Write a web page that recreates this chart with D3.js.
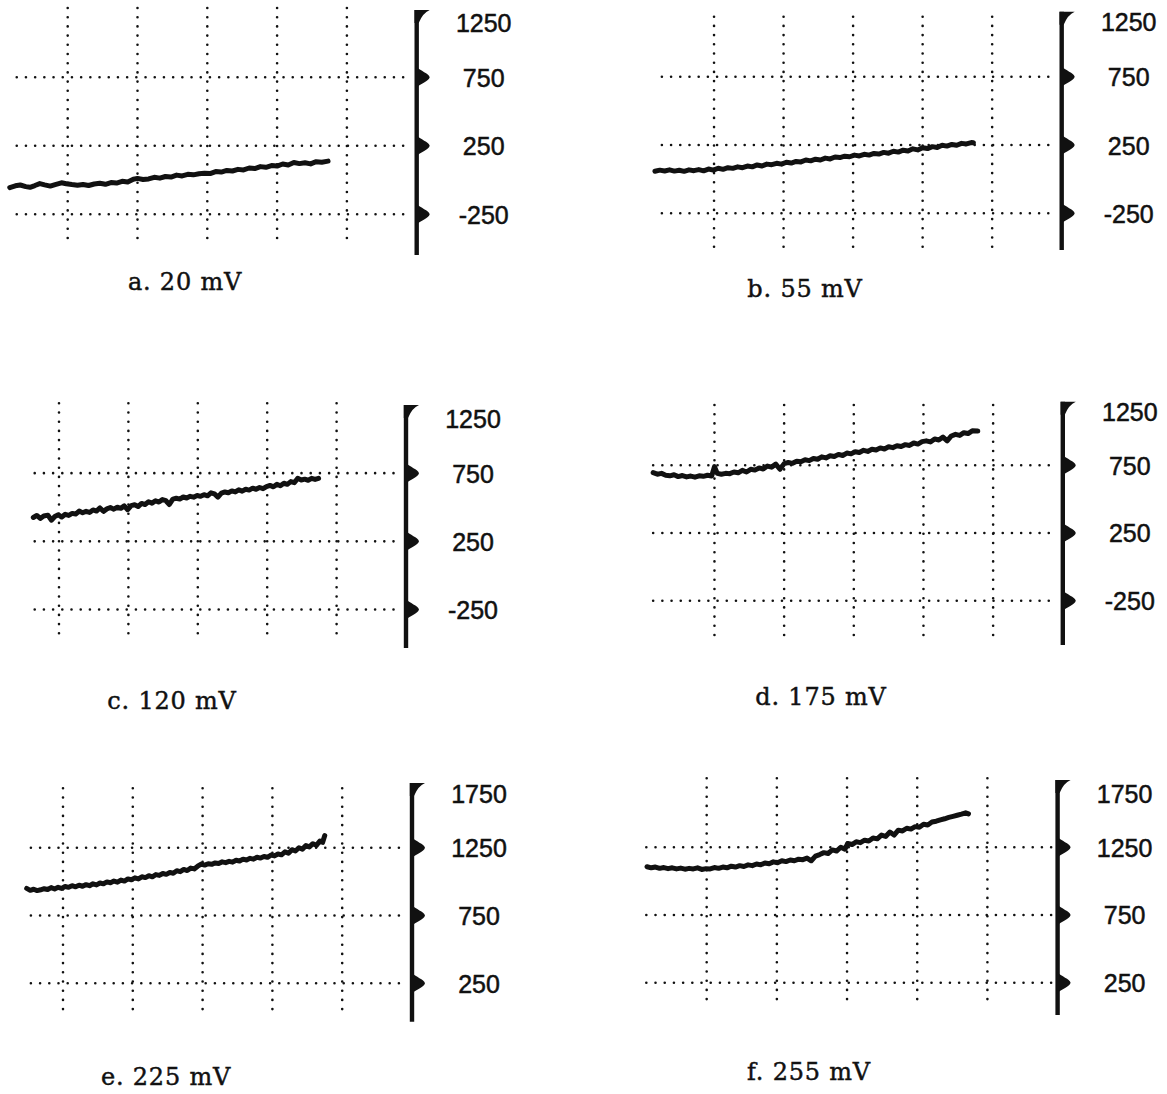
<!DOCTYPE html>
<html>
<head>
<meta charset="utf-8">
<script src="https://cdn.jsdelivr.net/npm/d3@7"></script>
<style>
  body { margin: 0; background: #fff; }
  svg { display: block; }
</style>
</head>
<body>
<div id="chart"></div>
<script>
// tick labels on the right-hand scales
var ticksLow  = [1250, 750, 250, -250];   // panels a-d
var ticksHigh = [1750, 1250, 750, 250];   // panels e, f

var panelNames = ["a. 20 mV", "b. 55 mV", "c. 120 mV", "d. 175 mV", "e. 225 mV", "f. 255 mV"];

// grid divisions (x) that carry a vertical dotted line
var divisions = [1, 2, 3, 4, 5];

// traces: [division, value]
var traceA = [[0.17,-55],[0.25,-42],[0.32,-36],[0.40,-48],[0.46,-53],[0.53,-40],[0.60,-26],[0.67,-35],[0.75,-44],[0.82,-33],
  [0.91,-20],[0.98,-27],[1.06,-33],[1.14,-38],[1.22,-32],[1.30,-40],[1.38,-29],[1.46,-24],[1.54,-31],[1.62,-18],
  [1.70,-22],[1.78,-9],[1.86,-14],[1.94,6],[2.00,12],[2.08,4],[2.16,8],[2.24,20],[2.32,14],[2.40,26],
  [2.48,22],[2.56,36],[2.64,30],[2.72,42],[2.80,38],[2.88,46],[2.96,50],[3.04,47],[3.12,62],[3.20,58],
  [3.28,70],[3.36,66],[3.44,78],[3.52,74],[3.60,88],[3.68,84],[3.76,98],[3.84,93],[3.92,106],[4.00,102],
  [4.08,117],[4.16,110],[4.24,128],[4.32,120],[4.40,126],[4.48,118],[4.56,134],[4.64,130],[4.73,138]];

var traceB = [[0.15,58],[0.22,66],[0.29,60],[0.36,68],[0.43,59],[0.50,65],[0.57,57],[0.64,68],[0.71,62],[0.78,70],
  [0.85,61],[0.92,74],[0.99,66],[1.06,80],[1.13,72],[1.20,84],[1.27,79],[1.34,90],[1.41,84],[1.48,96],
  [1.55,90],[1.62,104],[1.69,96],[1.76,110],[1.83,106],[1.90,116],[1.97,110],[2.04,124],[2.11,118],[2.18,130],
  [2.25,126],[2.32,140],[2.39,134],[2.46,146],[2.53,140],[2.60,154],[2.67,148],[2.74,162],[2.81,158],[2.88,168],
  [2.95,164],[3.02,176],[3.09,170],[3.16,182],[3.23,176],[3.30,188],[3.37,184],[3.44,196],[3.51,190],[3.58,204],
  [3.65,198],[3.72,212],[3.79,206],[3.86,222],[3.93,214],[4.00,230],[4.07,224],[4.14,238],[4.21,232],[4.28,248],
  [4.35,242],[4.42,254],[4.49,248],[4.56,262],[4.63,258],[4.70,268],[4.73,266]];

var traceC = [[0.63,425],[0.68,440],[0.73,418],[0.78,436],[0.84,442],[0.89,405],[0.94,432],[0.99,445],[1.04,428],[1.09,448],
  [1.14,440],[1.19,455],[1.24,450],[1.29,472],[1.34,460],[1.39,470],[1.44,462],[1.49,480],[1.54,472],[1.59,495],
  [1.64,470],[1.69,488],[1.74,498],[1.79,486],[1.84,500],[1.89,492],[1.94,510],[1.99,482],[2.04,512],[2.09,518],
  [2.14,505],[2.19,528],[2.24,520],[2.29,540],[2.34,530],[2.39,548],[2.44,538],[2.49,556],[2.54,548],[2.59,520],
  [2.64,560],[2.69,566],[2.74,560],[2.79,575],[2.84,568],[2.89,580],[2.94,574],[2.99,586],[3.04,580],[3.09,592],
  [3.14,584],[3.19,606],[3.24,598],[3.29,575],[3.34,604],[3.39,612],[3.44,606],[3.49,620],[3.54,612],[3.59,628],
  [3.64,618],[3.69,632],[3.74,626],[3.79,640],[3.84,632],[3.89,645],[3.94,636],[3.99,652],[4.04,660],[4.09,650],
  [4.14,668],[4.19,658],[4.24,676],[4.29,668],[4.34,688],[4.39,680],[4.44,712],[4.49,700],[4.54,706],[4.59,698],
  [4.64,712],[4.69,704],[4.74,712]];

var traceD = [[0.12,695],[0.18,684],[0.24,690],[0.30,676],[0.36,672],[0.42,680],[0.48,666],[0.54,674],[0.60,664],[0.66,670],
  [0.72,662],[0.78,672],[0.84,668],[0.90,676],[0.96,670],[1.00,740],[1.04,690],[1.10,684],[1.16,690],[1.22,688],
  [1.28,700],[1.34,694],[1.40,712],[1.46,700],[1.52,720],[1.58,714],[1.64,730],[1.70,722],[1.76,744],[1.82,736],
  [1.88,758],[1.94,720],[2.00,762],[2.06,770],[2.12,764],[2.18,780],[2.24,776],[2.30,790],[2.36,784],[2.42,800],
  [2.48,794],[2.54,812],[2.60,804],[2.66,820],[2.72,814],[2.78,830],[2.84,822],[2.90,840],[2.96,834],[3.02,850],
  [3.08,844],[3.14,860],[3.20,852],[3.26,868],[3.32,862],[3.38,878],[3.44,870],[3.50,886],[3.56,880],[3.62,894],
  [3.68,888],[3.74,902],[3.80,896],[3.86,914],[3.92,906],[3.98,924],[4.04,930],[4.10,922],[4.16,944],[4.22,936],
  [4.28,958],[4.34,930],[4.40,966],[4.46,978],[4.52,970],[4.58,990],[4.64,984],[4.70,1004],[4.78,1002]];

var traceE = [[0.48,950],[0.53,936],[0.58,944],[0.63,934],[0.68,940],[0.73,948],[0.78,942],[0.83,956],[0.88,946],[0.93,958],
  [0.98,950],[1.03,964],[1.08,958],[1.13,970],[1.18,962],[1.23,974],[1.28,966],[1.33,978],[1.38,970],[1.43,984],
  [1.48,976],[1.53,990],[1.58,984],[1.63,998],[1.68,992],[1.73,1004],[1.78,996],[1.83,1012],[1.88,1004],[1.93,1020],
  [1.98,1014],[2.03,1028],[2.08,1020],[2.13,1036],[2.18,1030],[2.23,1044],[2.28,1036],[2.33,1052],[2.38,1046],[2.43,1060],
  [2.48,1054],[2.53,1068],[2.58,1062],[2.63,1080],[2.68,1074],[2.73,1090],[2.78,1082],[2.83,1100],[2.88,1094],[2.93,1114],
  [2.98,1130],[3.03,1122],[3.08,1132],[3.13,1128],[3.18,1138],[3.23,1134],[3.28,1146],[3.33,1140],[3.38,1150],[3.43,1144],
  [3.48,1158],[3.53,1152],[3.58,1166],[3.63,1160],[3.68,1172],[3.73,1166],[3.78,1180],[3.83,1174],[3.88,1186],[3.93,1180],
  [3.98,1196],[4.03,1190],[4.08,1204],[4.13,1198],[4.18,1220],[4.23,1210],[4.28,1236],[4.33,1226],[4.38,1250],[4.43,1240],
  [4.48,1266],[4.53,1256],[4.58,1280],[4.63,1268],[4.68,1300],[4.72,1290],[4.75,1340]];

var traceF = [[0.15,1106],[0.21,1098],[0.27,1104],[0.33,1094],[0.39,1100],[0.45,1092],[0.51,1098],[0.57,1090],[0.63,1096],[0.69,1088],
  [0.75,1094],[0.81,1090],[0.87,1098],[0.93,1086],[0.99,1092],[1.05,1090],[1.11,1100],[1.17,1094],[1.23,1104],[1.29,1098],
  [1.35,1110],[1.41,1104],[1.47,1114],[1.53,1108],[1.59,1120],[1.65,1114],[1.71,1126],[1.77,1120],[1.83,1134],[1.89,1128],
  [1.95,1142],[2.01,1136],[2.07,1150],[2.13,1144],[2.19,1156],[2.25,1150],[2.31,1162],[2.37,1158],[2.43,1170],[2.49,1150],
  [2.55,1184],[2.61,1196],[2.67,1210],[2.73,1204],[2.79,1230],[2.85,1222],[2.91,1250],[2.97,1236],[3.01,1278],[3.07,1270],
  [3.13,1290],[3.19,1284],[3.25,1302],[3.31,1296],[3.37,1318],[3.43,1312],[3.49,1340],[3.55,1330],[3.61,1362],[3.67,1340],
  [3.73,1376],[3.79,1370],[3.85,1390],[3.91,1384],[3.97,1402],[4.03,1398],[4.09,1420],[4.15,1414],[4.21,1436],[4.27,1442],
  [4.33,1452],[4.39,1460],[4.45,1470],[4.51,1478],[4.57,1486],[4.63,1494],[4.69,1504],[4.73,1496]];

var traces = [traceA, traceB, traceC, traceD, traceE, traceF];
var tickSets = [ticksLow, ticksLow, ticksLow, ticksLow, ticksHigh, ticksHigh];

// where each panel sits on the page (pixels), scanned panels are not quite aligned
var layout = [
  {x0: -2.1,  x6: 416.7,  yTop: 8.8,   yBot: 214.3, gTop: 8,     gBot: 247,    hStart: 0.27, aTop: 10,    aBot: 255,    lx: 185, ly: 290},
  {x0: 644.5, x6: 1061.7, yTop: 8.4,   yBot: 213.3, gTop: 16.7,  gBot: 246.7,  hStart: 0.25, aTop: 11.7,  aBot: 250,    lx: 805, ly: 297},
  {x0: -10.4, x6: 406,    yTop: 405,   yBot: 609.5, gTop: 403.3, gBot: 640,    hStart: 0.65, aTop: 405,   aBot: 648,    lx: 172, ly: 709},
  {x0: 644.8, x6: 1062.8, yTop: 397.5, yBot: 600.7, gTop: 405,   gBot: 641.7,  hStart: 0.12, aTop: 401.7, aBot: 645,    lx: 821, ly: 705},
  {x0: -6.8,  x6: 412,    yTop: 780,   yBot: 983.3, gTop: 788.3, gBot: 1016.7, hStart: 0.54, aTop: 783,   aBot: 1021.7, lx: 166, ly: 1085},
  {x0: 636.5, x6: 1057.6, yTop: 779.5, yBot: 982.7, gTop: 778.3, gBot: 1006.7, hStart: 0.14, aTop: 780,   aBot: 1015,   lx: 809, ly: 1080}
];

var svg = d3.select("#chart")
  .append("svg")
    .attr("width", 1167)
    .attr("height", 1094);

var ink = "#111";

layout.forEach(function(L, i) {
  var ticks = tickSets[i];
  var x = d3.scaleLinear().domain([0, 6]).range([L.x0, L.x6]);
  var y = d3.scaleLinear().domain([ticks[0], ticks[3]]).range([L.yTop, L.yBot]);
  var g = svg.append("g");
  var ax = x(6);

  // vertical dotted grid
  g.selectAll(".vgrid")
    .data(divisions)
    .enter().append("line")
      .attr("x1", function(d){ return x(d); })
      .attr("x2", function(d){ return x(d); })
      .attr("y1", L.gTop)
      .attr("y2", L.gBot)
      .attr("stroke", ink)
      .attr("stroke-width", 2.6)
      .attr("stroke-linecap", "round")
      .attr("stroke-dasharray", "0 9.2");

  // horizontal dotted grid at the lower three ticks
  g.selectAll(".hgrid")
    .data(ticks.slice(1))
    .enter().append("line")
      .attr("x1", x(L.hStart))
      .attr("x2", ax - 6)
      .attr("y1", function(d){ return y(d); })
      .attr("y2", function(d){ return y(d); })
      .attr("stroke", ink)
      .attr("stroke-width", 2.6)
      .attr("stroke-linecap", "round")
      .attr("stroke-dasharray", "0 9.2");

  // the trace
  g.append("path")
    .datum(traces[i])
    .attr("fill", "none")
    .attr("stroke", ink)
    .attr("stroke-width", 5)
    .attr("stroke-linejoin", "round")
    .attr("stroke-linecap", "round")
    .attr("d", d3.line()
      .x(function(d){ return x(d[0]); })
      .y(function(d){ return y(d[1]); }));

  // thick right-hand scale
  g.append("line")
    .attr("x1", ax).attr("x2", ax)
    .attr("y1", L.aTop).attr("y2", L.aBot)
    .attr("stroke", ink)
    .attr("stroke-width", 4.4);

  // flag at the top of the scale
  g.append("path")
    .attr("d", "M" + (ax - 2.2) + "," + L.aTop + " L" + (ax + 13) + "," + L.aTop +
               " Q" + (ax + 6) + "," + (L.aTop + 3) + " " + (ax + 2) + "," + (L.aTop + 13) + " L" + (ax - 2.2) + "," + (L.aTop + 13) + " Z")
    .attr("fill", ink);

  // rounded arrow markers at the lower ticks
  g.selectAll(".marker")
    .data(ticks.slice(1))
    .enter().append("path")
      .attr("d", function(d) {
        var ty = y(d);
        return "M" + (ax - 1) + "," + (ty - 11) +
               " C" + (ax + 4) + "," + (ty - 6) + " " + (ax + 12) + "," + (ty - 4) + " " + (ax + 13) + "," + ty +
               " C" + (ax + 12) + "," + (ty + 4) + " " + (ax + 4) + "," + (ty + 6) + " " + (ax - 1) + "," + (ty + 11) + " Z";
      })
      .attr("fill", ink);

  // tick labels through d3's own axis
  var axis = g.append("g")
    .attr("transform", "translate(" + ax + ",0)")
    .call(d3.axisRight(y).tickValues(ticks).tickSize(0).tickFormat(function(d){ return String(d); }));
  axis.select(".domain").remove();
  axis.selectAll("text")
    .attr("x", 67)
    .attr("dy", function(d, k){ return k === 0 ? "0.9em" : "0.36em"; })
    .attr("text-anchor", "middle")
    .attr("fill", ink)
    .attr("stroke", ink)
    .attr("stroke-width", 0.5)
    .style("font-family", "'Liberation Sans', Arial, sans-serif")
    .style("font-size", "25px");

  // panel caption
  g.append("text")
    .attr("x", L.lx)
    .attr("y", L.ly)
    .attr("text-anchor", "middle")
    .attr("fill", ink)
    .attr("stroke", ink)
    .attr("stroke-width", 0.45)
    .style("font-family", "'DejaVu Serif', serif")
    .style("font-size", "24px")
    .style("letter-spacing", "0.8px")
    .text(panelNames[i]);
});
</script>
</body>
</html>
